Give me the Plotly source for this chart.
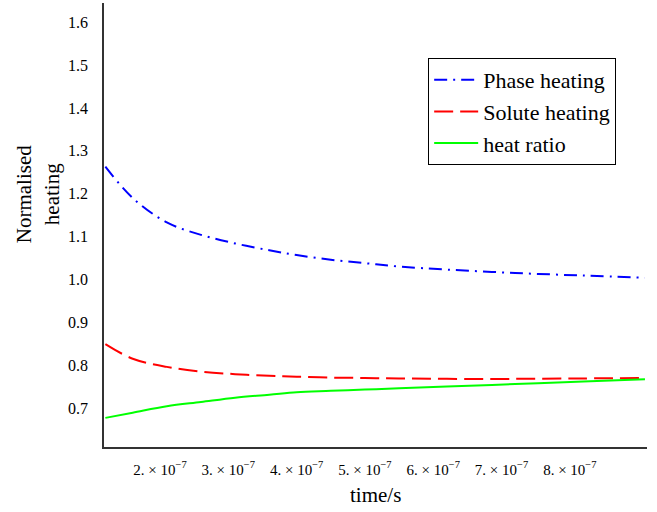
import plotly.graph_objects as go

# time in seconds
time_s = [1.2e-7, 1.6e-7, 2.1e-7, 2.6e-7, 3.1e-7, 3.6e-7, 4.0e-7, 4.5e-7,
          5.0e-7, 5.5e-7, 6.2e-7, 7.2e-7, 8.2e-7, 9.1e-7]
phase_heating = [1.263, 1.190, 1.133, 1.104, 1.084, 1.068, 1.057, 1.046,
                 1.038, 1.030, 1.023, 1.015, 1.009, 1.004]
solute_heating = [0.849, 0.815, 0.796, 0.785, 0.779, 0.775, 0.773, 0.771,
                  0.770, 0.769, 0.768, 0.768, 0.769, 0.770]
heat_ratio = [0.677, 0.689, 0.704, 0.714, 0.724, 0.731, 0.737, 0.740,
              0.743, 0.746, 0.750, 0.756, 0.762, 0.767]

x_tickvals = [2e-7, 3e-7, 4e-7, 5e-7, 6e-7, 7e-7, 8e-7]
x_ticktext = [f"{k}. \u00d7 10<sup>\u22127</sup>" for k in range(2, 9)]
y_tickvals = [0.7, 0.8, 0.9, 1.0, 1.1, 1.2, 1.3, 1.4, 1.5, 1.6]
y_ticktext = ["0.7", "0.8", "0.9", "1.0", "1.1", "1.2", "1.3", "1.4", "1.5", "1.6"]

serif = "Liberation Serif, Times New Roman, serif"

fig = go.Figure()
fig.add_trace(go.Scatter(x=time_s, y=phase_heating, mode="lines", name="Phase heating",
                         line=dict(color="#0000FF", width=2, dash="13px,6px,2px,6px", shape="spline")))
fig.add_trace(go.Scatter(x=time_s, y=solute_heating, mode="lines", name="Solute heating",
                         line=dict(color="#FF0000", width=2, dash="19px,7px", shape="spline")))
fig.add_trace(go.Scatter(x=time_s, y=heat_ratio, mode="lines", name="heat ratio",
                         line=dict(color="#00FF00", width=2, shape="spline")))

fig.update_layout(
    width=657, height=512,
    margin=dict(l=104, r=10, t=3, b=65),
    paper_bgcolor="white", plot_bgcolor="white",
    font=dict(family=serif, color="black", size=15),
    showlegend=True,
    legend=dict(x=0.597, y=0.876, xanchor="left", yanchor="top",
                bgcolor="white", bordercolor="black", borderwidth=1,
                font=dict(family=serif, size=22, color="black"),
                tracegroupgap=0, itemwidth=44),
    xaxis=dict(range=[1.18e-7, 9.13e-7], showgrid=False, zeroline=False,
               showline=True, linecolor="#333333", linewidth=1.5, automargin=False,
               ticks="", tickvals=x_tickvals, ticktext=x_ticktext,
               ticklabelstandoff=8, tickfont=dict(family=serif, size=15, color="black")),
    yaxis=dict(range=[0.609, 1.645], showgrid=False, zeroline=False,
               showline=True, linecolor="#333333", linewidth=1.5, automargin=False,
               ticks="", tickvals=y_tickvals, ticktext=y_ticktext,
               ticklabelstandoff=11, tickfont=dict(family=serif, size=16, color="black")),
    annotations=[
        dict(text="Normalised<br>heating", textangle=-90, xref="paper", yref="paper",
             x=-0.121, y=0.57, xanchor="center", yanchor="middle", showarrow=False,
             font=dict(family=serif, size=21, color="black")),
        dict(text="time/s", xref="paper", yref="paper", x=0.5, y=-0.108,
             xanchor="center", yanchor="middle", showarrow=False,
             font=dict(family=serif, size=21, color="black")),
    ],
)

fig.write_html("out.html", config={"displayModeBar": False},
               post_script="document.body.style.margin='0';")
